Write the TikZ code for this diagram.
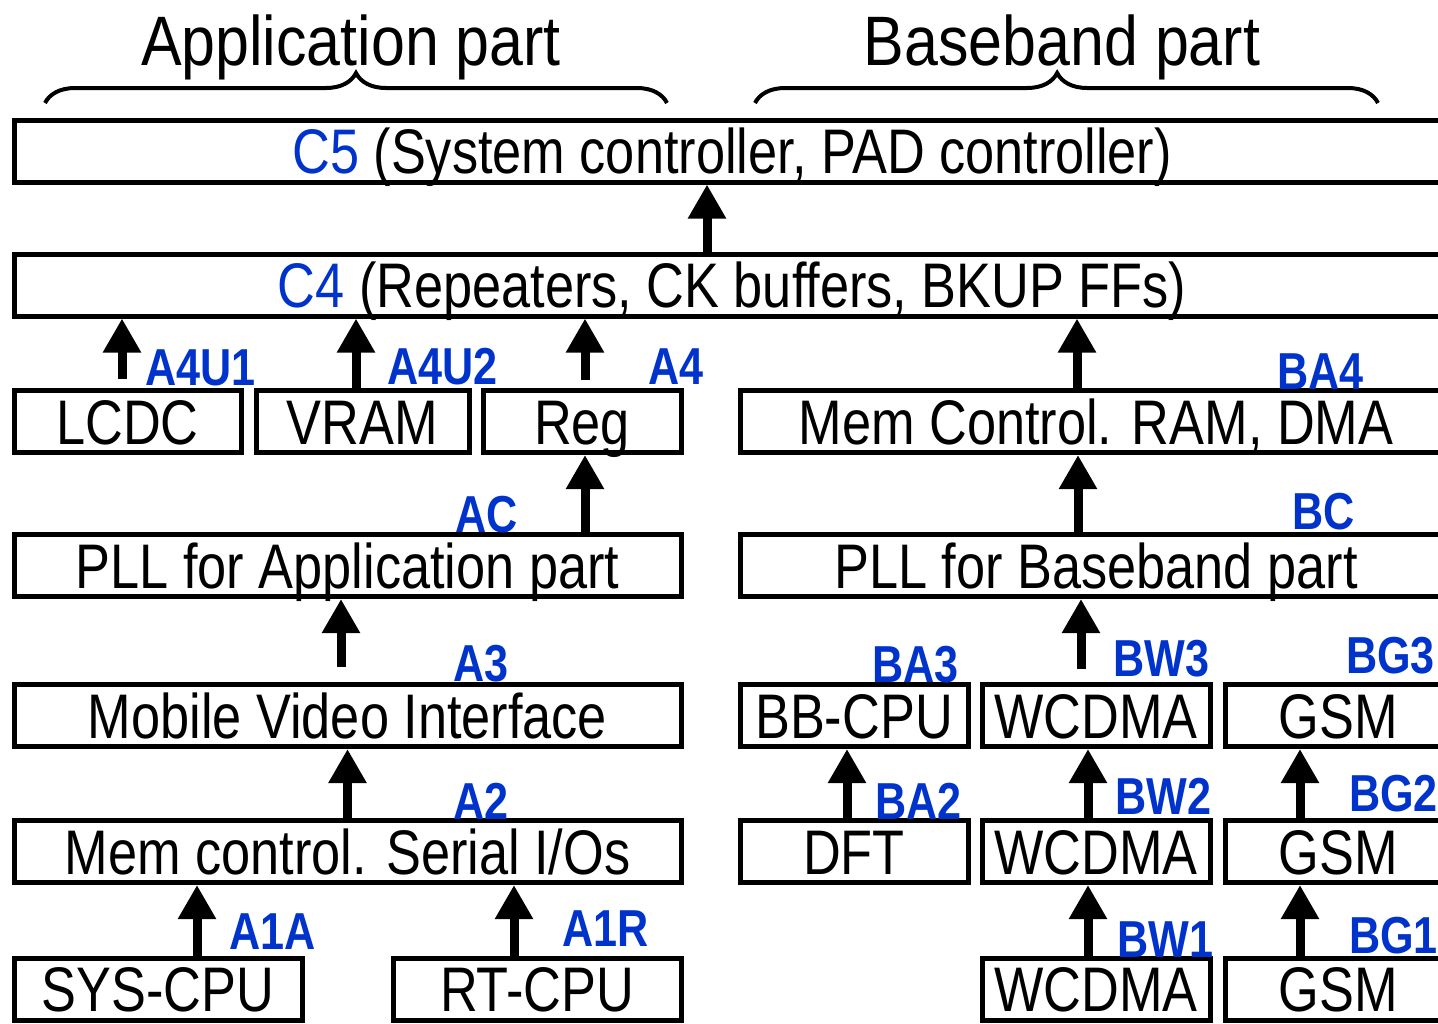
\documentclass[tikz,border=0pt]{standalone}
\usepackage{fontspec}
\setmainfont[FakeStretch=0.83]{Liberation Sans}
\newfontfamily\titlefont[FakeStretch=0.87]{Liberation Sans}
\usepackage{tikz}
\usetikzlibrary{arrows.meta,decorations.pathreplacing}
\definecolor{cblue}{RGB}{0,51,204}
\begin{document}
\begin{tikzpicture}[x=1pt,y=-1pt,
blk/.style = {draw, line width=5pt, inner sep=0pt, text height=45pt, text depth=0pt, minimum height=62pt, font=\fontsize{63}{63}\selectfont},
lbl/.style = {anchor=base west, inner sep=0pt, text=cblue, font=\fontsize{52}{52}\selectfont\bfseries},
ttl/.style = {anchor=base, inner sep=0pt, font=\titlefont\fontsize{70}{70}\selectfont},
arr/.style = {line width=9pt, -{Triangle[length=34pt,width=36pt]}},
brc/.style = {line width=4pt, decorate, decoration={brace, amplitude=30pt}}]
\useasboundingbox (0,0) rectangle (1438,1023);
\clip (0,0) rectangle (1438,1023);
\node[ttl] (tapp) at (351,65) {Application part};
\node[ttl] (tbb) at (1062,65) {Baseband part};
\draw[brc] (45,103) -- (667,103);
\draw[brc, decoration={aspect=0.485}] (755,103) -- (1378,103);
\node[blk, minimum width=1436pt] (c5) at (732,151) {\textcolor{cblue}{C5} (System controller, PAD controller)};
\node[blk, minimum width=1436pt] (c4) at (732,285) {\textcolor{cblue}{C4} (Repeaters, CK buffers, BKUP FFs)};
\node[blk, minimum width=227pt] (lcdc) at (127.5,421.5) {LCDC};
\node[blk, minimum width=213pt] (vram) at (362.5,421.5) {VRAM};
\node[blk, minimum width=198pt] (reg) at (582,421.5) {Reg};
\node[blk, minimum width=712pt] (memb) at (1096,421.5) {Mem Control. RAM, DMA};
\node[blk, minimum width=667pt] (pllapp) at (347.5,565.5) {PLL for Application part};
\node[blk, minimum width=712pt] (pllbb) at (1096,565.5) {PLL for Baseband part};
\node[blk, minimum width=667pt] (mvi) at (347.5,715.5) {Mobile Video Interface};
\node[blk, minimum width=228pt] (bbcpu) at (854,715.5) {BB-CPU};
\node[blk, minimum width=228pt] (wcdmaC) at (1096,715.5) {WCDMA};
\node[blk, minimum width=227pt] (gsmC) at (1338.5,715.5) {GSM};
\node[blk, minimum width=667pt] (memapp) at (347.5,851.5) {Mem control. Serial I/Os};
\node[blk, minimum width=228pt] (dft) at (854,851.5) {DFT};
\node[blk, minimum width=228pt] (wcdmaB) at (1096,851.5) {WCDMA};
\node[blk, minimum width=227pt] (gsmB) at (1338.5,851.5) {GSM};
\node[blk, minimum width=288pt] (syscpu) at (158,989) {SYS-CPU};
\node[blk, minimum width=288pt] (rtcpu) at (537,989) {RT-CPU};
\node[blk, minimum width=228pt] (wcdmaA) at (1096,989) {WCDMA};
\node[blk, minimum width=227pt] (gsmA) at (1338.5,989) {GSM};
\draw[arr] ([xshift=-25pt]c4.north) -- ([xshift=-25pt]c5.south);
\draw[arr] ([xshift=-5.5pt,yshift=9pt]lcdc.north) -- ([xshift=-5.5pt]lcdc.north |- c4.south);
\draw[arr] ([xshift=-6.5pt]vram.north) -- ([xshift=-6.5pt]vram.north |- c4.south);
\draw[arr] ([xshift=3pt,yshift=8pt]reg.north) -- ([xshift=3pt]reg.north |- c4.south);
\draw[arr] ([xshift=-19pt]memb.north) -- ([xshift=-19pt]memb.north |- c4.south);
\draw[arr] ([xshift=3pt]reg.south |- pllapp.north) -- ([xshift=3pt]reg.south);
\draw[arr] ([xshift=-18pt]pllbb.north) -- ([xshift=-18pt]memb.south);
\draw[arr] ([xshift=-6.5pt,yshift=15pt]mvi.north) -- ([xshift=-6.5pt]pllapp.south);
\draw[arr] ([xshift=-15pt,yshift=13pt]wcdmaC.north) -- ([xshift=-15pt]wcdmaC.north |- pllbb.south);
\draw[arr] (memapp.north) -- (mvi.south);
\draw[arr] ([xshift=-7pt]dft.north) -- ([xshift=-7pt]bbcpu.south);
\draw[arr] ([xshift=-8pt]wcdmaB.north) -- ([xshift=-8pt]wcdmaC.south);
\draw[arr] ([xshift=-38.5pt]gsmB.north) -- ([xshift=-38.5pt]gsmC.south);
\draw[arr] ([xshift=39pt]syscpu.north) -- ([xshift=39pt]syscpu.north |- memapp.south);
\draw[arr] ([xshift=-23pt]rtcpu.north) -- ([xshift=-23pt]rtcpu.north |- memapp.south);
\draw[arr] ([xshift=-8pt]wcdmaA.north) -- ([xshift=-8pt]wcdmaB.south);
\draw[arr] ([xshift=-38.5pt]gsmA.north) -- ([xshift=-38.5pt]gsmB.south);
\node[lbl] (lA4U1) at (145,385) {A4U1};
\node[lbl] (lA4U2) at (387,384) {A4U2};
\node[lbl] (lA4) at (648,384) {A4};
\node[lbl] (lBA4) at (1277,389) {BA4};
\node[lbl] (lAC) at (455,532) {AC};
\node[lbl] (lBC) at (1292,529) {BC};
\node[lbl] (lA3) at (453,681) {A3};
\node[lbl] (lBA3) at (872,682) {BA3};
\node[lbl] (lBW3) at (1113,676) {BW3};
\node[lbl] (lBG3) at (1346,673) {BG3};
\node[lbl] (lA2) at (453,819) {A2};
\node[lbl] (lBA2) at (875,819) {BA2};
\node[lbl] (lBW2) at (1115,814) {BW2};
\node[lbl] (lBG2) at (1349,811) {BG2};
\node[lbl] (lA1A) at (229,949) {A1A};
\node[lbl] (lA1R) at (562,946) {A1R};
\node[lbl] (lBW1) at (1117,957) {BW1};
\node[lbl] (lBG1) at (1349,953) {BG1};
\end{tikzpicture}
\end{document}
